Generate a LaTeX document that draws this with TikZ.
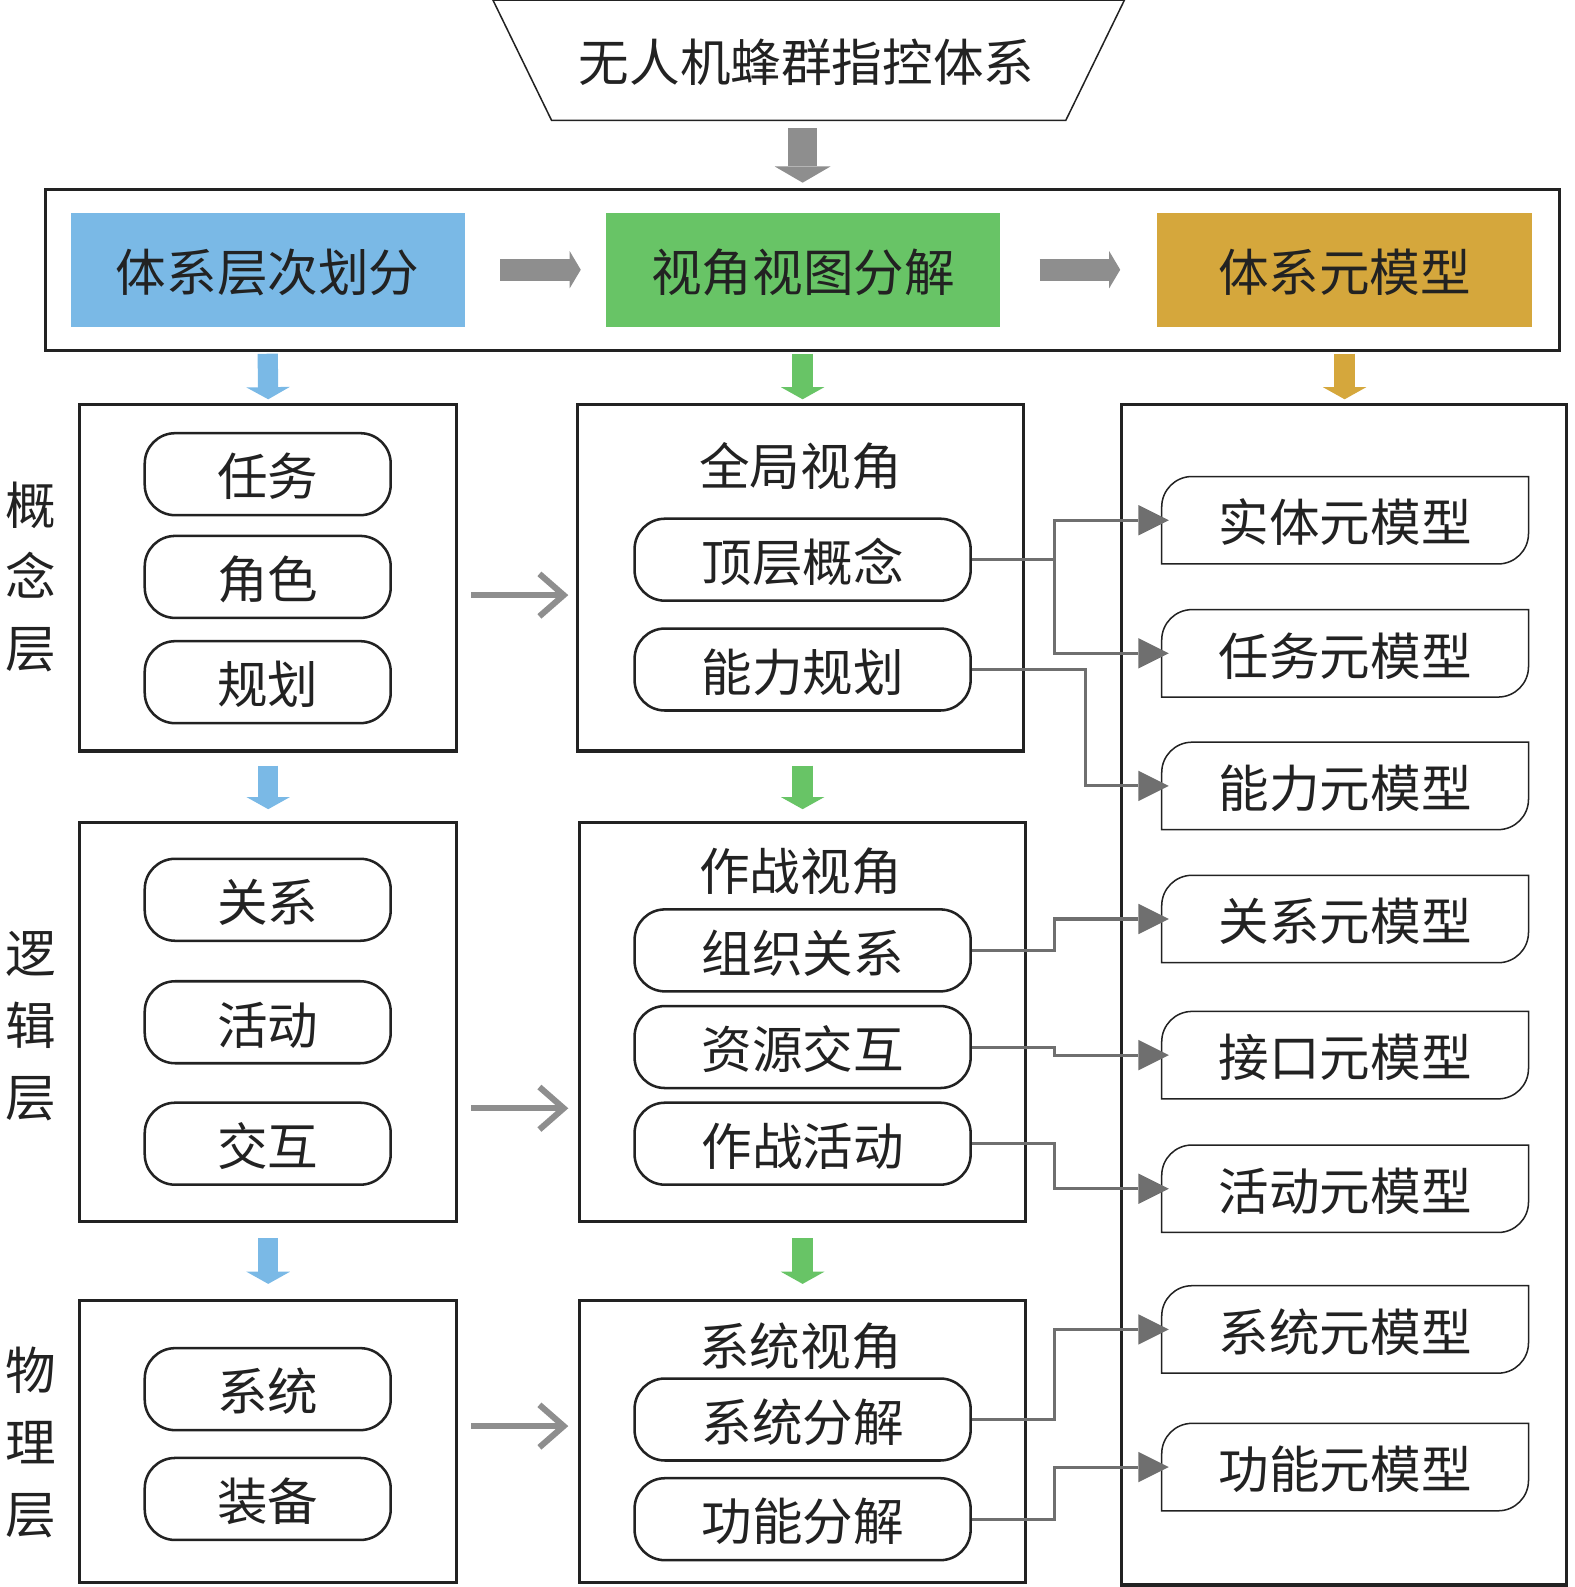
\documentclass[tikz,border=0pt]{standalone}
\usepackage{fontspec}
\newfontfamily\cjk{Noto Sans CJK SC}
\usetikzlibrary{arrows.meta,calc}
\definecolor{cblue}{HTML}{7AB9E6}
\definecolor{cgreen}{HTML}{68C466}
\definecolor{cgold}{HTML}{D5A73C}
\definecolor{bgray}{HTML}{8E8E8E}
\definecolor{lgray}{HTML}{6F6F6F}
\definecolor{ink}{HTML}{222222}
\newcommand\tabshape[1]{\draw[tabline] (#1.south west) -- ([yshift=-30pt]#1.north west) arc[start angle=180,end angle=90,radius=30pt] -- (#1.north east) -- ([yshift=30pt]#1.south east) arc[start angle=0,end angle=-90,radius=30pt] -- cycle;}
\begin{document}
\begin{tikzpicture}[x=1pt,y=-1pt,
  every node/.style={font=\cjk\fontsize{50}{60}\selectfont, inner sep=0pt, text=ink, text height=44pt, text depth=1pt},
  frame/.style={draw=ink, line width=3pt},
  hbox/.style={minimum width=389pt, minimum height=113pt},
  pill/.style={draw=ink, line width=2.5pt, rounded corners=30pt, minimum width=243pt, minimum height=81pt},
  mpill/.style={pill, minimum width=332pt},
  tabnode/.style={minimum width=362pt, minimum height=86pt},
  tabline/.style={draw=ink, line width=1.5pt},
  side/.style={align=center, text height={}, text depth={}, font=\cjk\fontsize{50}{71}\selectfont},
  bigdown/.style={draw=bgray, line width=28pt, -{Triangle[length=16pt,width=55pt,line width=0pt]}},
  hright/.style={draw=bgray, line width=22pt, -{Triangle[length=11pt,width=37pt,line width=0pt]}},
  cdown/.style={draw=#1, line width=20pt, -{Triangle[length=12pt,width=43pt,line width=0pt]}},
  chev/.style={draw=bgray, line width=6pt, -{Straight Barb[length=24pt,width=42pt,line cap=butt,line join=miter]}},
  conn/.style={draw=lgray, line width=3pt, -{Triangle[length=30pt,width=30pt,line width=0pt]}}
]
\useasboundingbox (0,0) rectangle (1556,1568);

% top trapezoid
\draw[draw=ink, line width=1.5pt] (487,0) -- (1111,0) -- (1053,119) -- (545,119) -- cycle;
\node[text depth=6pt] (title) at (797,62) {无人机蜂群指控体系};

% header
\node[frame, minimum width=1496pt, minimum height=159pt] (hdr) at (793,266.5) {};
\node[hbox, fill=cblue] (blue) at (264.5,266.5) {体系层次划分};
\node[hbox, fill=cgreen] (green) at (793.5,266.5) {视角视图分解};
\node[hbox, fill=cgold, minimum width=371pt] (gold) at (1328.5,266.5) {体系元模型};
\draw[bigdown] ($(hdr.north)+(0,-59)$) -- ($(hdr.north)+(0,-5)$);
\draw[hright] ($(blue.east)+(35,0)$) -- ($(green.west)+(-25,0)$);
\draw[hright] ($(green.east)+(39,0)$) -- ($(gold.west)+(-36,0)$);

% left column
\node[frame, minimum width=372pt, minimum height=342pt] (L1) at (265,571) {};
\node[frame, minimum width=372pt, minimum height=394pt] (L2) at (265,1010) {};
\node[frame, minimum width=372pt, minimum height=279pt] (L3) at (265,1424.5) {};
\node[pill] (a1) at (264.5,468.5) {任务};
\node[pill] (a2) at (264.5,570) {角色};
\node[pill] (a3) at (264.5,674) {规划};
\node[pill] (b1) at (264.5,889) {关系};
\node[pill] (b2) at (264.5,1010) {活动};
\node[pill] (b3) at (264.5,1130) {交互};
\node[pill] (c1) at (264.5,1372.5) {系统};
\node[pill] (c2) at (264.5,1481) {装备};

% side labels
\node[side] (s1) at (30,570) {概\\念\\层};
\node[side] (s2) at (30,1014) {逻\\辑\\层};
\node[side] (s3) at (30,1425) {物\\理\\层};

% middle column
\node[frame, minimum width=440pt, minimum height=342pt] (M1) at (791,571) {};
\node[frame, minimum width=440pt, minimum height=394pt] (M2) at (793,1010) {};
\node[frame, minimum width=440pt, minimum height=279pt] (M3) at (793,1424.5) {};
\node (m1t) at (791,458) {全局视角};
\node (m2t) at (791,858) {作战视角};
\node (m3t) at (791,1328) {系统视角};
\node[mpill] (p1) at (793,553) {顶层概念};
\node[mpill] (p2) at (793,661.5) {能力规划};
\node[mpill] (p3) at (793,939) {组织关系};
\node[mpill] (p4) at (793,1034.5) {资源交互};
\node[mpill] (p5) at (793,1130) {作战活动};
\node[mpill] (p6) at (793,1402.5) {系统分解};
\node[mpill] (p7) at (793,1501) {功能分解};

% right column
\node[frame, minimum width=440pt, minimum height=1166pt] (R) at (1328,983) {};
\node[tabnode] (t1) at (1329,514) {实体元模型};
\node[tabnode] (t2) at (1329,645.5) {任务元模型};
\node[tabnode] (t3) at (1329,776.5) {能力元模型};
\node[tabnode] (t4) at (1329,908) {关系元模型};
\node[tabnode] (t5) at (1329,1042.5) {接口元模型};
\node[tabnode] (t6) at (1329,1174.5) {活动元模型};
\node[tabnode] (t7) at (1329,1313.5) {系统元模型};
\node[tabnode] (t8) at (1329,1449.5) {功能元模型};
\foreach \t in {t1,t2,t3,t4,t5,t6,t7,t8} {\tabshape{\t}}

% coloured down arrows
\draw[cdown=cblue] ($(blue.south|-hdr.south)+(0,2)$) -- ($(L1.north)+(0,-4)$);
\draw[cdown=cgreen] ($(M1.north|-hdr.south)+(2,2)$) -- ($(M1.north)+(2,-4)$);
\draw[cdown=cgold] ($(gold.south|-hdr.south)+(0,2)$) -- ($(gold.south|-R.north)+(0,-4)$);
\draw[cdown=cblue] ($(L1.south)+(0,13)$) -- ($(L2.north)+(0,-12)$);
\draw[cdown=cblue] ($(L2.south)+(0,15)$) -- ($(L3.north)+(0,-15)$);
\draw[cdown=cgreen] ($(M1.south)+(2,13)$) -- ($(M2.north)+(0,-12)$);
\draw[cdown=cgreen] ($(M2.south)+(0,15)$) -- ($(M3.north)+(0,-15)$);

% open arrows left -> middle
\draw[chev] ($(L1.east)+(13,17)$) -- ($(L1.east)+(109,17)$);
\draw[chev] ($(L2.east)+(13,85)$) -- ($(L2.east)+(109,85)$);
\draw[chev] ($(L3.east)+(13,-15.5)$) -- ($(L3.east)+(109,-15.5)$);

% connectors middle -> right
\draw[conn] (p1.east) -- ++(82,0) |- ([xshift=7pt]t1.west);
\draw[conn] (p1.east) -- ++(82,0) |- ([xshift=7pt]t2.west);
\draw[conn] (p2.east) -- ++(112,0) |- ([xshift=7pt]t3.west);
\draw[conn] (p3.east) -- ++(82,0) |- ([xshift=7pt]t4.west);
\draw[conn] (p4.east) -- ++(82,0) |- ([xshift=7pt]t5.west);
\draw[conn] (p5.east) -- ++(82,0) |- ([xshift=7pt]t6.west);
\draw[conn] (p6.east) -- ++(82,0) |- ([xshift=7pt]t7.west);
\draw[conn] (p7.east) -- ++(82,0) |- ([xshift=7pt]t8.west);
\end{tikzpicture}
\end{document}
